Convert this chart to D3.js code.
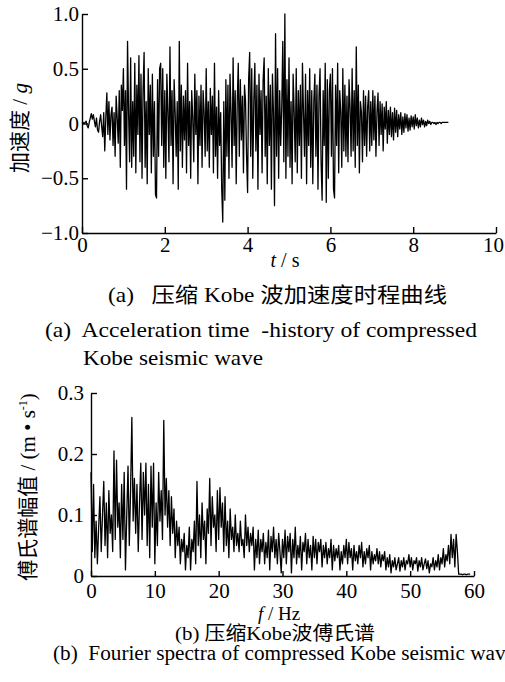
<!DOCTYPE html>
<html>
<head>
<meta charset="utf-8">
<script src="https://cdn.jsdelivr.net/npm/d3@7"></script>
<style>
  body { margin: 0; background: #fff; }
  svg text { font-family: "Liberation Serif", "Noto Sans CJK SC", serif; fill: #000; }
</style>
</head>
<body>
<div id="chart"></div>
<script>
// ---- data: (a) compressed Kobe wave, acceleration (g), sampled every 0.025 s
const accDt = 0.025;
const accValues = [
  0, 0.01, 0, 0.01, 0.02, -0.02, -0.04, 0.01, 0.05, 0.09, 0.04, 0.08, 0.02, -0.03, 0.05, -0.06, -0.08, 0.02, 0.08, -0.03,
  -0.12, 0.1, -0.25, 0.05, 0.28, -0.1, 0.2, -0.15, 0.08, 0.15, -0.2, 0.1, -0.3, 0.25, 0.05, -0.18, 0.3, -0.4, 0.35, 0.12,
  0.5, -0.2, 0.3, -0.6, 0.75, 0.1, -0.35, 0.6, -0.4, 0.2, -0.3, 0.55, -0.45, 0.35, -0.1, 0.62, -0.35, 0.45, -0.5, 0.3,
  0.65, -0.4, 0.2, -0.55, 0.5, -0.1, 0.35, -0.45, 0.45, -0.3, 0.2, -0.65, -0.68, 0.4, -0.3, 0.5, 0.55, -0.2, 0.5, -0.4,
  0.3, -0.5, 0.45, 0.1, -0.35, 0.7, -0.2, 0.3, -0.55, 0.4, 0.1, -0.3, 0.2, -0.6, 0.75, -0.25, 0.35, -0.4, 0.25, -0.15,
  0.3, -0.45, 0.55, -0.2, 0.2, -0.5, 0.3, 0.05, -0.35, 0.45, -0.1, 0.3, -0.55, 0.25, -0.2, 0.35, -0.4, 0.3, 0.1, -0.3,
  0.5, -0.25, 0.2, -0.4, 0.32, -0.1, 0.25, -0.45, 0.55, -0.3, 0.15, -0.5, 0.3, -0.2, 0.1, -0.6, -0.9, 0.2, -0.7, 0.4,
  -0.3, 0.35, -0.5, 0.45, 0.1, -0.4, 0.6, -0.2, 0.3, -0.55, 0.2, 0.55, -0.3, 0.4, -0.15, 0.25, -0.45, 0.35, 0.2, -0.3,
  -0.63, 0.4, 0.65, -0.3, 0.5, -0.5, 0.2, 0.55, -0.25, 0.35, -0.6, 0.45, -0.1, 0.3, -0.45, 0.4, 0.6, -0.3, 0.25, -0.55,
  0.5, -0.2, 0.35, -0.6, 0.45, 0.1, -0.75, 0.82, -0.3, 0.5, -0.5, 0.3, -0.2, 0.15, 0.75, -0.35, 1.0, -0.5, 0.4, -0.3,
  0.6, -0.4, 0.2, -0.55, 0.45, 0.1, -0.35, 0.5, -0.45, 0.3, -0.2, 0.35, -0.5, 0.55, 0.1, -0.3, 0.45, -0.55, 0.3, -0.2,
  0.5, -0.4, 0.3, -0.55, 0.2, 0.45, -0.3, 0.35, -0.6, 0.25, 0.5, -0.35, -0.7, 0.3, -0.2, 0.55, -0.72, 0.4, -0.5, 0.3,
  0.45, -0.3, 0.5, -0.6, -0.68, 0.35, -0.2, 0.55, -0.45, 0.3, 0.1, -0.4, 0.5, -0.25, 0.35, -0.3, 0.25, -0.35, 0.4, 0.15,
  -0.3, 0.5, -0.25, 0.3, -0.4, 0.7, -0.2, 0.35, -0.45, 0.2, 0.1, -0.35, 0.3, -0.2, 0.25, -0.3, 0.15, 0.3, -0.25, 0.2,
  -0.2, 0.3, -0.15, 0.25, -0.3, 0.1, 0.28, -0.2, 0.2, -0.1, 0.18, -0.25, 0.15, -0.05, 0.2, -0.18, 0.12, -0.1, 0.15, -0.12,
  0.1, -0.15, 0.14, -0.08, 0.12, -0.12, 0.08, -0.05, 0.1, -0.1, 0.06, -0.08, 0.09, -0.04, 0.08, -0.07, 0.05, -0.06, 0.07, -0.03,
  0.06, -0.05, 0.08, -0.02, 0.05, -0.04, 0.03, -0.03, 0.05, -0.01, 0.03, -0.03, 0.02, -0.02, 0.03, 0, 0.02, -0.01, 0.01, 0.01,
  0, 0.01, -0.01, 0.01, 0, 0.01, 0.01, 0, 0.01, 0.01, 0.01, 0.01, 0.01, 0.01, 0.01
];
const accXTicks = [0, 2, 4, 6, 8, 10];
const accYTicks = [-1.0, -0.5, 0, 0.5, 1.0];

// ---- data: (b) Fourier amplitude (m/s), sampled every 0.2 Hz
const fftDf = 0.2;
const fftValues = [
  0.17, 0.04, 0.15, 0.03, 0.09, 0.02, 0.08, 0.13, 0.04, 0.1, 0.155, 0.05, 0.12, 0.03, 0.14, 0.07, 0.1, 0.04, 0.205, 0.06, 0.19, 0.08, 0.12, 0.03, 0.15,
  0.06, 0.17, 0.01, 0.1, 0.18, 0.05, 0.14, 0.26, 0.09, 0.16, 0.07, 0.15, 0.04, 0.12, 0.185, 0.06, 0.17, 0.1, 0.185, 0.05, 0.15, 0.03, 0.18, 0.08, 0.185,
  0.02, 0.12, 0.05, 0.17, 0.09, 0.14, 0.06, 0.255, 0.1, 0.16, 0.08, 0.14, 0.05, 0.13, 0.07, 0.11, 0.03, 0.09, 0.05, 0.08, 0.02, 0.06, 0.04, 0.07, 0.01,
  0.05, 0.03, 0.08, 0.01, 0.06, 0.04, 0.09, 0.02, 0.155, 0.05, 0.1, 0.03, 0.12, 0.06, 0.09, 0.02, 0.11, 0.07, 0.16, 0.05, 0.13, 0.08, 0.1, 0.04, 0.14,
  0.06, 0.145, 0.08, 0.12, 0.04, 0.13, 0.05, 0.09, 0.03, 0.11, 0.06, 0.08, 0.04, 0.1, 0.05, 0.07, 0.04, 0.09, 0.05, 0.06, 0.03, 0.1, 0.05, 0.08, 0.04,
  0.07, 0.05, 0.08, 0.01, 0.06, 0.03, 0.075, 0.02, 0.06, 0.04, 0.07, 0.02, 0.055, 0.03, 0.075, 0.01, 0.065, 0.04, 0.08, 0.03, 0.06, 0.02, 0.07, 0.04, 0.005,
  0.06, 0.03, 0.075, 0.02, 0.065, 0.04, 0.07, 0.005, 0.06, 0.03, 0.08, 0.02, 0.05, 0.03, 0.065, 0.01, 0.055, 0.04, 0.07, 0.02, 0.06, 0.03, 0.05, 0.01, 0.065,
  0.03, 0.06, 0.02, 0.055, 0.04, 0.06, 0.015, 0.05, 0.03, 0.055, 0.02, 0.045, 0.03, 0.06, 0.01, 0.05, 0.025, 0.045, 0.03, 0.05, 0.01, 0.04, 0.02, 0.05, 0.03,
  0.06, 0.02, 0.055, 0.03, 0.045, 0.01, 0.05, 0.025, 0.04, 0.02, 0.05, 0.03, 0.055, 0.015, 0.04, 0.02, 0.045, 0.03, 0.05, 0.01, 0.04, 0.02, 0.035, 0.025, 0.045,
  0.02, 0.04, 0.015, 0.035, 0.025, 0.04, 0.01, 0.03, 0.015, 0.035, 0.005, 0.025, 0.015, 0.03, 0.01, 0.02, 0.03, 0.008, 0.025, 0.015, 0.03, 0.01, 0.025, 0.02, 0.035,
  0.015, 0.03, 0.01, 0.025, 0.02, 0.03, 0.008, 0.025, 0.015, 0.03, 0.01, 0.02, 0.028, 0.012, 0.025, 0.005, 0.02, 0.015, 0.03, 0.01, 0.025, 0.015, 0.035, 0.01, 0.03,
  0.02, 0.045, 0.015, 0.035, 0.025, 0.05, 0.02, 0.068, 0.03, 0.06, 0.015, 0.068, 0.04, 0.003, 0.003, 0.003, 0.002, 0.003, 0.003, 0.002, 0.003, 0.003, 0.003
];
const fftXTicks = [0, 10, 20, 30, 40, 50, 60];
const fftYTicks = [0, 0.1, 0.2, 0.3];

const svg = d3.select("#chart").append("svg")
    .attr("width", 505)
    .attr("height", 682);

function fmt(d) {
    return d === 0 ? "0" : d3.format(".1f")(d);
}

function styleAxis(g) {
    g.select(".domain").attr("stroke", "#000").attr("stroke-width", 1.4);
    g.selectAll(".tick line").attr("stroke", "#000").attr("stroke-width", 1.4);
    g.selectAll(".tick text")
        .attr("font-family", "Liberation Serif")
        .attr("font-size", 21)
        .attr("fill", "#000");
}

// captions get stretched to the width they take in the figure
function caption(x, y, size, str, len, anchor) {
    return svg.append("text")
        .attr("x", x).attr("y", y)
        .attr("font-size", size)
        .attr("text-anchor", anchor || "start")
        .attr("xml:space", "preserve")
        .attr("textLength", len)
        .attr("lengthAdjust", "spacingAndGlyphs")
        .text(str);
}

// ================= (a) time history =================
const xA = d3.scaleLinear().domain([0, 10]).range([82, 496]);
const yA = d3.scaleLinear().domain([-1, 1]).range([233, 14]);

const gxA = svg.append("g")
    .attr("transform", `translate(0,${yA(-1)})`)
    .call(d3.axisBottom(xA).tickValues(accXTicks).tickFormat(d3.format("d"))
        .tickSizeInner(-6).tickSizeOuter(0).tickPadding(4))
    .call(styleAxis);
// keep the last label inside the page
gxA.selectAll(".tick text").filter(d => d === 10).attr("dx", -3);

svg.append("g")
    .attr("transform", `translate(${xA(0)},0)`)
    .call(d3.axisLeft(yA).tickValues(accYTicks).tickFormat(fmt)
        .tickSizeInner(-6).tickSizeOuter(0).tickPadding(3))
    .call(styleAxis);

const accData = accValues.map((v, i) => ({ t: i * accDt, a: v }));
svg.append("path")
    .datum(accData)
    .attr("fill", "none")
    .attr("stroke", "#000")
    .attr("stroke-width", 1.3)
    .attr("stroke-linejoin", "round")
    .attr("d", d3.line().x(d => xA(d.t)).y(d => yA(d.a)));

// axis titles
svg.append("text")
    .attr("transform", "translate(27,128) rotate(-90)")
    .attr("text-anchor", "middle")
    .attr("font-size", 21)
    .html('加速度 / <tspan font-style="italic">g</tspan>');

svg.append("text")
    .attr("x", 285).attr("y", 267)
    .attr("text-anchor", "middle")
    .attr("font-size", 20)
    .html('<tspan font-style="italic">t</tspan> / s');

caption(108, 302, 21, "(a)   压缩 Kobe 波加速度时程曲线", 339);
caption(45, 337, 21, "(a)  Acceleration time  -history of compressed", 432);
caption(83, 365, 21, "Kobe seismic wave", 180);

// ================= (b) Fourier spectrum =================
const xB = d3.scaleLinear().domain([0, 60]).range([91, 474]);
const yB = d3.scaleLinear().domain([0, 0.3]).range([576, 393]);

svg.append("g")
    .attr("transform", `translate(0,${yB(0)})`)
    .call(d3.axisBottom(xB).tickValues(fftXTicks).tickFormat(d3.format("d"))
        .tickSizeInner(-5).tickSizeOuter(0).tickPadding(7))
    .call(styleAxis);

svg.append("g")
    .attr("transform", `translate(${xB(0)},0)`)
    .call(d3.axisLeft(yB).tickValues(fftYTicks).tickFormat(fmt)
        .tickSizeInner(-6).tickSizeOuter(0).tickPadding(7))
    .call(styleAxis);

const fftData = fftValues.map((v, i) => ({ f: i * fftDf, amp: v }));
svg.append("path")
    .datum(fftData)
    .attr("fill", "none")
    .attr("stroke", "#000")
    .attr("stroke-width", 1.3)
    .attr("stroke-linejoin", "round")
    .attr("d", d3.line().x(d => xB(d.f)).y(d => yB(d.amp)));

svg.append("text")
    .attr("transform", "translate(35,487) rotate(-90)")
    .attr("text-anchor", "middle")
    .attr("font-size", 21)
    .html('傅氏谱幅值 / (m • s<tspan dy="-8" font-size="12">-1</tspan><tspan dy="8">)</tspan>');

svg.append("text")
    .attr("x", 279).attr("y", 620)
    .attr("text-anchor", "middle")
    .attr("font-size", 19)
    .html('<tspan font-style="italic">f</tspan> / Hz');

caption(175, 640, 19, "(b) 压缩Kobe波傅氏谱", 200);
caption(53, 660, 20, "(b)  Fourier spectra of compressed Kobe seismic wave", 462);
</script>
</body>
</html>
